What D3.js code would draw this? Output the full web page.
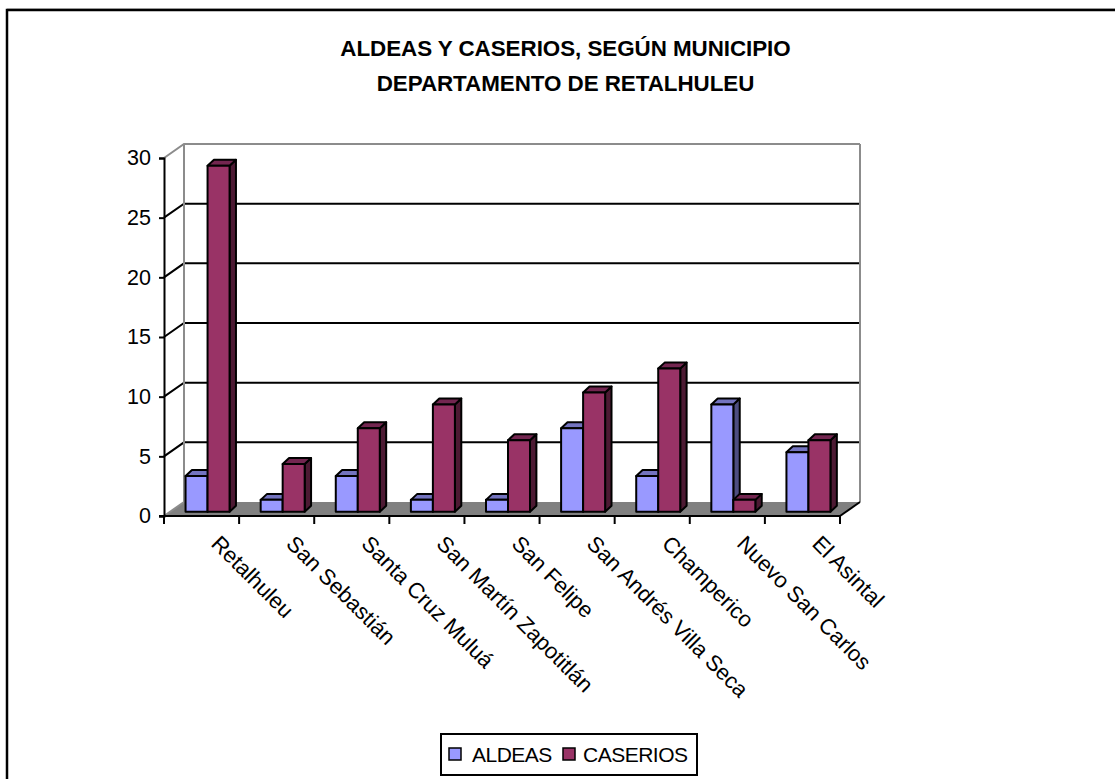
<!DOCTYPE html>
<html lang="es">
<head>
    <meta charset="UTF-8">
    <title>Aldeas y caserios</title>
    <script src="https://d3js.org/d3.v7.min.js"></script>
    <style>
        html, body { margin: 0; background: #fff; }
        svg { display: block; }
        text { font-family: "Liberation Sans", Arial, sans-serif; fill: #000; }
    </style>
</head>
<body>
    <svg width="1115" height="779" id="chart"></svg>
    <script>
        const municipios = ['Retalhuleu', 'San Sebastián', 'Santa Cruz Muluá', 'San Martín Zapotitlán',
            'San Felipe', 'San Andrés Villa Seca', 'Champerico', 'Nuevo San Carlos', 'El Asintal'];
        const aldeas = [3, 1, 3, 1, 1, 7, 3, 9, 5];
        const caserios = [29, 4, 7, 9, 6, 10, 12, 1, 6];
        const yTicks = [0, 5, 10, 15, 20, 25, 30];
        const titulo = ['ALDEAS Y CASERIOS, SEGÚN MUNICIPIO', 'DEPARTAMENTO DE RETALHULEU'];

        const svg = d3.select('#chart');

        const x = d3.scaleBand().domain(municipios).range([164, 840]);
        const y = d3.scaleLinear().domain([0, 30]).range([516, 158]);

        // oblique depth of the 3d box
        const depthX = 20, depthY = -14;
        const barW = 22;
        const barDepth0 = 0.3, barDepth1 = 0.62;

        function pts(list) {
            return list.map(function(p) { return p.join(','); }).join(' ');
        }

        // frame, open on the right and the bottom
        svg.append('path').attr('d', 'M7,779V10H1115').attr('fill', 'none').attr('stroke', '#000').attr('stroke-width', 2.5);
        svg.append('line').attr('x1', 7).attr('x2', 1115).attr('y1', 8.5).attr('y2', 8.5).attr('stroke', '#999').attr('stroke-width', 1);

        svg.selectAll('text.title')
            .data(titulo)
            .enter()
            .append('text')
            .attr('class', 'title')
            .attr('x', 565.5)
            .attr('y', function(d, i) { return 55.5 + i * 35.5; })
            .attr('text-anchor', 'middle')
            .attr('font-size', 22.4)
            .attr('font-weight', 'bold')
            .attr('letter-spacing', -0.05)
            .text(function(d) { return d; });

        const x0 = x.range()[0], x1 = x.range()[1];

        // floor
        svg.append('polygon')
            .attr('points', pts([[x0, y(0)], [x1, y(0)], [x1 + depthX, y(0) + depthY], [x0 + depthX, y(0) + depthY]]))
            .attr('fill', '#808080');

        // back wall gridlines and side wall diagonals
        yTicks.filter(function(d) { return d > 0; }).forEach(function(t) {
            const colour = t == 30 ? '#8c8c8c' : '#000';
            svg.append('polyline')
                .attr('points', pts([[x0, y(t)], [x0 + depthX, y(t) + depthY], [x1 + depthX, y(t) + depthY]]))
                .attr('fill', 'none')
                .attr('stroke', colour)
                .attr('stroke-width', 2);
        });
        svg.append('polyline')
            .attr('points', pts([[x0 + depthX, y(0) + depthY], [x0 + depthX, y(30) + depthY]]))
            .attr('stroke', '#8c8c8c').attr('stroke-width', 2);
        svg.append('polyline')
            .attr('points', pts([[x1 + depthX, y(0) + depthY], [x1 + depthX, y(30) + depthY]]))
            .attr('stroke', '#8c8c8c').attr('stroke-width', 2);
        svg.append('line')
            .attr('x1', x0).attr('y1', y(0)).attr('x2', x0 + depthX).attr('y2', y(0) + depthY)
            .attr('stroke', '#8c8c8c').attr('stroke-width', 2);
        svg.append('line')
            .attr('x1', x1).attr('y1', y(0)).attr('x2', x1 + depthX).attr('y2', y(0) + depthY)
            .attr('stroke', '#000').attr('stroke-width', 2);

        // one oblique bar: side, top, front
        function drawBar(g, left, value, front, top, side) {
            const bx0 = left + depthX * barDepth0;
            const bx1 = bx0 + barW;
            const base = y(0) + depthY * barDepth0;
            const head = y(value) + depthY * barDepth0;
            const dx = depthX * (barDepth1 - barDepth0);
            const dy = depthY * (barDepth1 - barDepth0) - 1.5;
            g.append('polygon')
                .attr('points', pts([[bx1, base], [bx1 + dx, base + dy], [bx1 + dx, head + dy], [bx1, head]]))
                .attr('fill', side);
            g.append('polygon')
                .attr('points', pts([[bx0, head], [bx1, head], [bx1 + dx, head + dy], [bx0 + dx, head + dy]]))
                .attr('fill', top);
            g.append('rect')
                .attr('x', bx0).attr('y', head)
                .attr('width', barW).attr('height', base - head)
                .attr('fill', front);
        }

        const bars = svg.append('g')
            .attr('stroke', '#000')
            .attr('stroke-width', 2)
            .attr('stroke-linejoin', 'round');

        municipios.forEach(function(m, i) {
            const left = x(m) + (x.step() - barW * 2) / 2;
            drawBar(bars, left, aldeas[i], '#9999ff', '#7373bf', '#4d4d80');
            drawBar(bars, left + barW, caserios[i], '#993366', '#732650', '#4d1a33');
        });

        // y axis
        const yAxis = d3.axisLeft(y).tickValues(yTicks).tickSize(5).tickPadding(8);
        const yG = svg.append('g').attr('transform', 'translate(' + x0 + ',0)').call(yAxis);
        yG.select('.domain').attr('stroke', '#000').attr('stroke-width', 2);
        yG.selectAll('line').attr('stroke', '#000').attr('stroke-width', 2);
        yG.selectAll('text').attr('font-size', 21.5).attr('font-family', '"Liberation Sans"');

        // x axis line, ticks sit on the category edges
        svg.append('line')
            .attr('x1', x0 - 5).attr('x2', x1).attr('y1', y(0)).attr('y2', y(0))
            .attr('stroke', '#000').attr('stroke-width', 2);
        const edges = municipios.map(function(m) { return x(m); }).concat([x1]);
        svg.selectAll('line.xtick')
            .data(edges)
            .enter()
            .append('line')
            .attr('class', 'xtick')
            .attr('x1', function(d) { return d; })
            .attr('x2', function(d) { return d; })
            .attr('y1', y(0))
            .attr('y2', y(0) + 8)
            .attr('stroke', '#000')
            .attr('stroke-width', 2);

        svg.selectAll('text.cat')
            .data(municipios)
            .enter()
            .append('text')
            .attr('class', 'cat')
            .attr('font-size', 22)
            .attr('transform', function(d) {
                return 'translate(' + (x(d) + 46) + ',' + (y(0) + 29) + ') rotate(45)';
            })
            .text(function(d) { return d; });

        // legend
        svg.append('rect')
            .attr('x', 441).attr('y', 734).attr('width', 256).attr('height', 41)
            .attr('fill', '#fff').attr('stroke', '#000').attr('stroke-width', 2);
        const legend = [
            { name: 'ALDEAS', colour: '#9999ff', sx: 449, tx: 472 },
            { name: 'CASERIOS', colour: '#993366', sx: 563, tx: 583 }
        ];
        svg.selectAll('rect.swatch')
            .data(legend)
            .enter()
            .append('rect')
            .attr('class', 'swatch')
            .attr('x', function(d) { return d.sx; })
            .attr('y', 748)
            .attr('width', 12)
            .attr('height', 12)
            .attr('fill', function(d) { return d.colour; })
            .attr('stroke', '#000')
            .attr('stroke-width', 1.5);
        svg.selectAll('text.legend')
            .data(legend)
            .enter()
            .append('text')
            .attr('class', 'legend')
            .attr('x', function(d) { return d.tx; })
            .attr('y', 762)
            .attr('font-size', 21)
            .attr('letter-spacing', -0.5)
            .text(function(d) { return d.name; });
    </script>
</body>
</html>
